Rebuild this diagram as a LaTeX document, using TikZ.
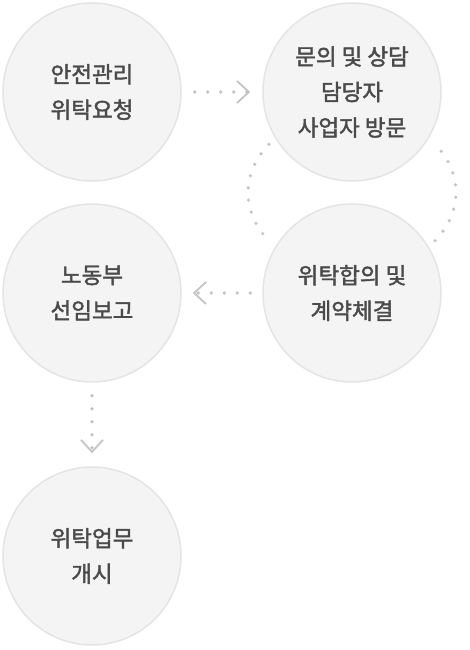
\documentclass[tikz,border=0pt]{standalone}
\usepackage{fontspec}
\setmainfont{Noto Sans CJK KR}
\newfontfamily\stagefont{Noto Sans CJK KR}[FakeBold=1.8]
\usetikzlibrary{arrows.meta,calc}
\definecolor{stepfill}{HTML}{F4F4F4}
\definecolor{stepline}{HTML}{E4E4E4}
\definecolor{steptext}{HTML}{4A4A4A}
\definecolor{dotgray}{HTML}{C4C4C4}
\tikzstyle{stage}=[circle,fill=stepfill,draw=stepline,line width=1.5pt,minimum size=178pt,inner sep=0pt,text=steptext,align=center,font=\stagefont\fontsize{22.5}{35.5}\selectfont]
\tikzstyle{flow}=[dotgray,line width=3.6pt,line cap=round,dash pattern=on 0pt off 13pt,-{Straight Barb[length=12pt 0,width=22pt 0,line width=1.8pt 0]}]
\tikzstyle{ring}=[dotgray,line width=3.6pt,line cap=round,dash pattern=on 0pt off 12.3pt]

\begin{document}
\begin{tikzpicture}[x=1pt,y=1pt]
\useasboundingbox (0, 0) rectangle (470, 650);
\node[stage] at (92, 558) (req) {안전관리\\위탁요청};
\node[stage] at (352, 558) (visit) {문의 및 상담\\담당자\\사업자 방문};
\node[stage] at (352, 357) (contract) {위탁합의 및\\계약체결};
\node[stage] at (92, 357) (report) {노동부\\선임보고};
\node[stage] at (92, 94) (start) {위탁업무\\개시};
\draw[flow, shorten <=13pt, shorten >=12pt] (req.east) -- (visit.west);
\draw[flow, shorten <=12pt, shorten >=11pt] (contract.west) -- (report.east);
\draw[flow, shorten <=13pt, shorten >=13pt] (report.south) -- (start.north);
\coordinate (loop) at ($(visit)!0.5!(contract)$);
\draw[ring] ([shift={(143:104 and 80)}]loop) arc[start angle=143, end angle=217, x radius=104, y radius=80];
\draw[ring] ([shift={(-37:104 and 80)}]loop) arc[start angle=-37, end angle=37, x radius=104, y radius=80];
\end{tikzpicture}
\end{document}
